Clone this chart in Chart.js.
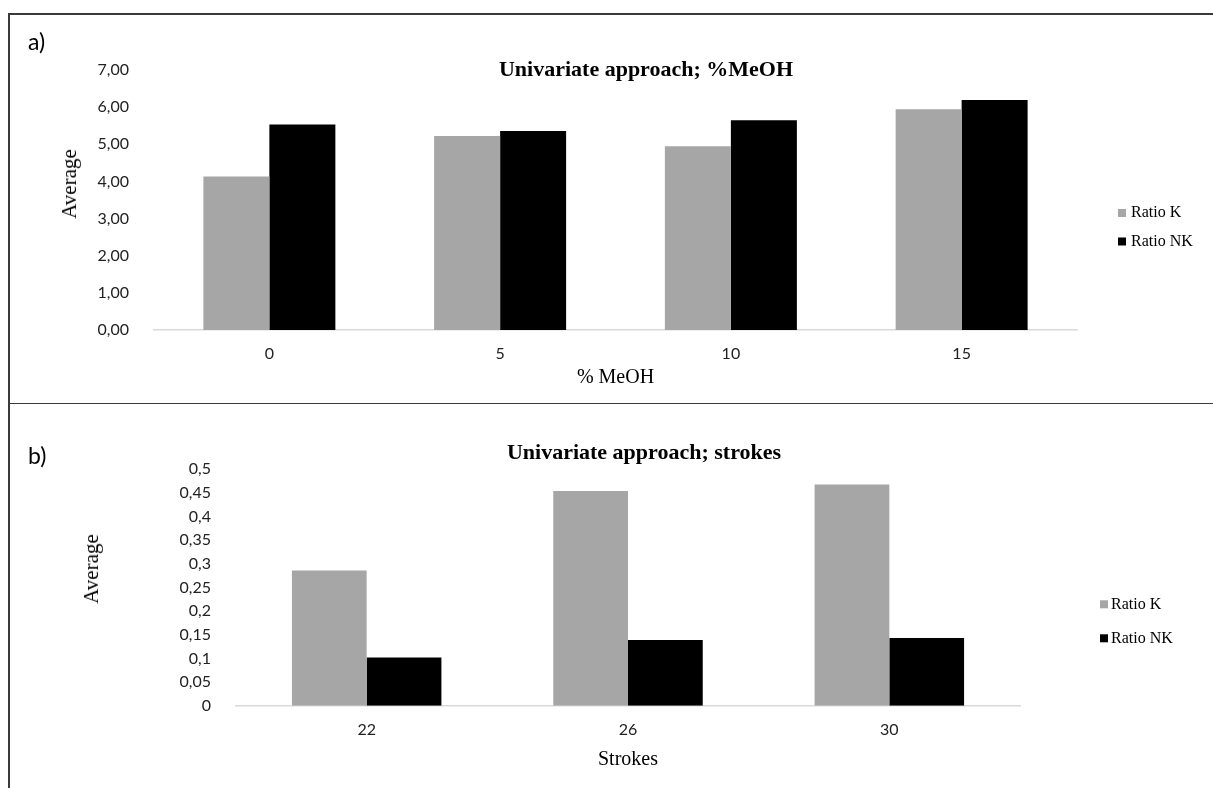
<!DOCTYPE html>
<html>
<head>
<meta charset="utf-8">
<script src="https://cdn.jsdelivr.net/npm/chart.js@4.4.1/dist/chart.umd.min.js"></script>
<style>
  html, body { margin: 0; padding: 0; background: #fff; }
  body { width: 1213px; height: 788px; position: relative; overflow: hidden; }
  .panel { position: absolute; left: 0; width: 1213px; }
  canvas { display: block; }
  .frame { position: absolute; background: #3a3a3a; }
  .tag { position: absolute; font-family: Lato, "Open Sans", sans-serif; font-size: 23px; line-height: 26px; color: #000; transform: translateY(-50%); }
  .ctitle { position: absolute; font-family: "Liberation Serif", "Times New Roman", serif; font-weight: bold; font-size: 22px; line-height: 26px; color: #000; transform: translate(-50%, -50%); white-space: nowrap; }
  .ytitle { position: absolute; font-family: "Liberation Serif", "Times New Roman", serif; font-size: 21px; line-height: 24px; color: #000; transform: translate(-50%, -50%) rotate(-90deg); white-space: nowrap; }
</style>
</head>
<body>

<div class="panel" style="top:0;height:400px"><canvas id="chartA" width="1213" height="400"></canvas></div>
<div class="panel" style="top:404px;height:384px"><canvas id="chartB" width="1213" height="384"></canvas></div>

<!-- panel frame -->
<div class="frame" style="left:8px;top:13px;width:1205px;height:1.5px"></div>
<div class="frame" style="left:8px;top:13px;width:1.5px;height:775px"></div>
<div class="frame" style="left:8px;top:402.5px;width:1205px;height:1.5px"></div>

<div class="tag" style="left:28px;top:41px">a)</div>
<div class="tag" style="left:28px;top:455px">b)</div>

<div class="ctitle" style="left:646px;top:69px">Univariate approach; %MeOH</div>
<div class="ctitle" style="left:644px;top:452px">Univariate approach; strokes</div>

<div class="ytitle" style="left:69px;top:184px">Average</div>
<div class="ytitle" style="left:91px;top:569px">Average</div>

<script>
// ---- panel a: methanol percentage ----
const meohLevels = ['0', '5', '10', '15'];
const meohRatioK = [4.13, 5.22, 4.95, 5.94];
const meohRatioNK = [5.53, 5.36, 5.65, 6.19];
const meohTickLabels = ['0,00', '1,00', '2,00', '3,00', '4,00', '5,00', '6,00', '7,00'];

// ---- panel b: number of strokes ----
const strokeLevels = ['22', '26', '30'];
const strokeRatioK = [0.286, 0.454, 0.468];
const strokeRatioNK = [0.102, 0.139, 0.143];
const strokeTickLabels = ['0', '0,05', '0,1', '0,15', '0,2', '0,25', '0,3', '0,35', '0,4', '0,45', '0,5'];

const seriesNames = ['Ratio K', 'Ratio NK'];
const GREY = '#a6a6a6';
const BLACK = '#000000';

// legend drawn in the space reserved to the right of the plot
const sideLegend = {
  id: 'sideLegend',
  afterDraw(chart, args, opts) {
    const ctx = chart.ctx;
    ctx.save();
    ctx.font = opts.font;
    ctx.textBaseline = 'middle';
    ctx.textAlign = 'left';
    chart.data.datasets.forEach((ds, i) => {
      const y = opts.y + i * opts.gap;
      ctx.fillStyle = ds.backgroundColor;
      ctx.fillRect(opts.x, y - opts.box / 2, opts.box, opts.box);
      ctx.fillStyle = '#000';
      ctx.fillText(ds.label, opts.x + opts.box + opts.textGap, y);
    });
    ctx.restore();
  }
};

const tickFont = { family: 'Lato, "Open Sans", sans-serif', size: 16 };
const serifTitle = { family: '"Liberation Serif", "Times New Roman", serif', size: 20 };

function buildChart(id, cfg) {
  return new Chart(document.getElementById(id), {
    type: 'bar',
    data: {
      labels: cfg.labels,
      datasets: [
        { label: seriesNames[0], data: cfg.k, backgroundColor: GREY, borderWidth: 0 },
        { label: seriesNames[1], data: cfg.nk, backgroundColor: BLACK, borderWidth: 0 }
      ]
    },
    options: {
      responsive: false,
      animation: false,
      events: [],
      layout: { padding: { top: cfg.padTop, right: cfg.padRight, bottom: 0, left: 0 } },
      datasets: { bar: { categoryPercentage: 0.572, barPercentage: 1.0 } },
      plugins: {
        legend: { display: false },
        tooltip: { enabled: false },
        sideLegend: cfg.legend
      },
      scales: {
        x: {
          grid: { display: false },
          border: { display: true, color: '#d9d9d9', width: 1.5 },
          ticks: { font: tickFont, color: '#222', padding: cfg.xTickPad },
          title: { display: true, text: cfg.xTitle, font: serifTitle, color: '#000', padding: { top: 0, bottom: cfg.xTitlePad } },
          afterFit(scale) { scale.height = cfg.xHeight; }
        },
        y: {
          min: 0,
          max: cfg.max,
          grid: { display: false },
          border: { display: false },
          ticks: {
            stepSize: cfg.step,
            font: tickFont,
            color: '#222',
            padding: 17,
            callback: (v, i) => cfg.tickLabels[i]
          },
          afterFit(scale) { scale.width = cfg.yWidth; }
        }
      }
    },
    plugins: [sideLegend]
  });
}

buildChart('chartA', {
  labels: meohLevels, k: meohRatioK, nk: meohRatioNK,
  max: 7, step: 1, tickLabels: meohTickLabels,
  xTitle: '% MeOH',
  padTop: 70, padRight: 136, yWidth: 154, xHeight: 70,
  xTickPad: 6.5, xTitlePad: 10,
  legend: { x: 1118, y: 213, gap: 28.5, box: 8, textGap: 5, font: '16px "Liberation Serif", serif' }
});

buildChart('chartB', {
  labels: strokeLevels, k: strokeRatioK, nk: strokeRatioNK,
  max: 0.5, step: 0.05, tickLabels: strokeTickLabels,
  xTitle: 'Strokes',
  padTop: 65.3, padRight: 193, yWidth: 236, xHeight: 82.3,
  xTickPad: 7, xTitlePad: 16,
  legend: { x: 1100, y: 200.3, gap: 34, box: 8, textGap: 3, font: '16px "Liberation Serif", serif' }
});
</script>
</body>
</html>
